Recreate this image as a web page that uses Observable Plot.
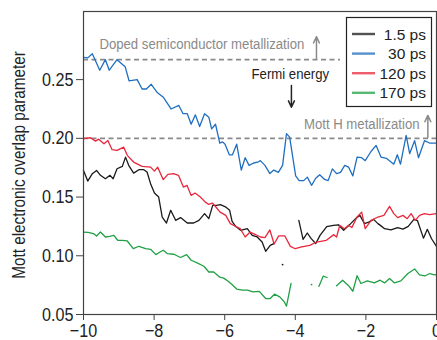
<!DOCTYPE html>
<html>
<head>
<meta charset="utf-8">
<script src="https://cdn.jsdelivr.net/npm/d3@7"></script>
<script src="https://cdn.jsdelivr.net/npm/@observablehq/plot@0.6"></script>
<style>
  html, body { margin: 0; padding: 0; background: #fff; }
  #chart { width: 437px; height: 340px; overflow: hidden; }
</style>
</head>
<body>
<div id="chart"></div>
<script>
// ---- data (x = energy relative to Fermi, y = Mott electronic overlap parameter) ----
const series = ["1.5 ps", "30 ps", "120 ps", "170 ps"];
const colors = ["#1a1a1a", "#1f6fc0", "#e8283c", "#21a045"];

const s1_5 = [[-10.00,0.1727],[-9.88,0.1636],[-9.75,0.1699],[-9.63,0.1727],[-9.52,0.1685],[-9.38,0.1656],[-9.25,0.1685],[-9.16,0.1656],[-9.05,0.1741],[-8.90,0.1761],[-8.81,0.184],[-8.72,0.177],[-8.58,0.1704],[-8.43,0.1733],[-8.29,0.1733],[-8.20,0.1713],[-8.10,0.1614],[-7.99,0.1534],[-7.87,0.150],[-7.77,0.133],[-7.65,0.1279],[-7.53,0.1387],[-7.39,0.1302],[-7.25,0.1325],[-7.06,0.1279],[-6.88,0.1279],[-6.73,0.1302],[-6.57,0.1359],[-6.45,0.1316],[-6.34,0.1429],[-6.23,0.1429],[-6.12,0.1435],[-5.98,0.1417],[-5.86,0.1387],[-5.79,0.1293],[-5.69,0.1251],[-5.55,0.1217],[-5.36,0.1231],[-5.22,0.1174],[-5.08,0.116],[-4.94,0.1117],[-4.84,0.1038],[-4.71,0.1089],[-4.61,0.1104],[-4.45,null],[-3.90,0.1302],[-3.78,0.114],[-3.66,0.1194],[-3.55,0.1146],[-3.42,0.1104],[-3.30,0.1174],[-3.11,0.1248],[-2.92,0.1259],[-2.78,0.1264],[-2.63,0.1217],[-2.48,0.1259],[-2.27,0.1323],[-2.17,0.1344],[-2.04,0.1274],[-1.92,0.1287],[-1.78,0.131],[-1.66,0.1274],[-1.59,0.1259],[-1.47,0.1231],[-1.29,0.1221],[-1.10,0.124],[-0.95,0.1227],[-0.80,0.125],[-0.64,0.131],[-0.54,0.130],[-0.37,0.115],[-0.26,0.1225],[-0.14,0.1145],[0.00,0.108]];

const s30 = [[-10.00,0.269],[-9.88,0.2685],[-9.75,0.272],[-9.54,0.258],[-9.38,0.267],[-9.27,0.258],[-9.05,0.267],[-8.82,0.261],[-8.71,0.249],[-8.48,0.250],[-8.34,0.242],[-8.22,0.242],[-8.08,0.246],[-7.91,0.239],[-7.74,0.235],[-7.52,0.225],[-7.30,0.228],[-7.18,0.221],[-7.06,0.221],[-6.95,0.212],[-6.83,0.220],[-6.71,0.210],[-6.57,0.221],[-6.45,0.218],[-6.37,0.208],[-6.26,0.212],[-6.14,0.196],[-6.06,0.197],[-5.99,0.195],[-5.87,0.186],[-5.78,0.186],[-5.66,0.195],[-5.53,0.173],[-5.42,0.1835],[-5.31,0.177],[-5.18,0.179],[-5.04,0.180],[-4.99,0.181],[-4.86,0.177],[-4.72,0.170],[-4.61,0.173],[-4.48,0.171],[-4.36,0.177],[-4.25,0.204],[-4.16,0.201],[-3.99,0.168],[-3.89,0.164],[-3.76,0.164],[-3.66,0.167],[-3.54,0.160],[-3.42,0.166],[-3.31,0.169],[-3.17,0.165],[-3.07,0.164],[-2.95,0.174],[-2.83,0.170],[-2.72,0.171],[-2.60,0.177],[-2.49,0.1755],[-2.37,0.168],[-2.25,0.184],[-2.12,0.1835],[-2.02,0.181],[-1.85,0.189],[-1.71,0.194],[-1.57,0.184],[-1.42,0.183],[-1.21,0.178],[-1.11,0.186],[-1.02,0.178],[-0.86,0.2025],[-0.76,0.187],[-0.62,0.198],[-0.51,0.1835],[-0.34,0.198],[-0.20,0.196],[0.00,0.196]];

const s120 = [[-10.00,0.1997],[-9.80,0.2005],[-9.66,0.1976],[-9.57,0.1993],[-9.42,0.1954],[-9.31,0.1982],[-9.19,0.1903],[-9.05,0.1897],[-8.86,0.1925],[-8.76,0.1855],[-8.58,0.1798],[-8.34,0.1761],[-8.10,0.1755],[-7.99,0.1721],[-7.90,0.1755],[-7.74,0.1648],[-7.61,0.1693],[-7.45,0.1699],[-7.31,0.1685],[-7.17,0.1585],[-7.07,0.160],[-6.95,0.1514],[-6.84,0.1534],[-6.69,0.150],[-6.55,0.1457],[-6.46,0.1438],[-6.35,0.1449],[-6.25,0.1415],[-6.13,0.1372],[-5.97,0.1344],[-5.84,0.1274],[-5.70,0.1251],[-5.56,0.1231],[-5.42,0.116],[-5.28,0.1202],[-5.14,0.1183],[-4.99,0.116],[-4.86,0.1155],[-4.72,0.122],[-4.60,0.110],[-4.47,0.117],[-4.30,0.117],[-4.14,0.108],[-4.00,0.106],[-3.82,0.1075],[-3.59,0.1089],[-3.40,0.1117],[-3.12,0.1132],[-2.91,0.118],[-2.83,0.116],[-2.74,0.126],[-2.61,0.1231],[-2.49,0.126],[-2.40,0.124],[-2.25,0.133],[-2.12,0.1372],[-2.02,0.1231],[-1.85,0.1302],[-1.66,0.133],[-1.49,0.1344],[-1.33,0.1421],[-1.21,0.1359],[-1.10,0.1325],[-0.95,0.1344],[-0.83,0.1316],[-0.72,0.1359],[-0.60,0.1302],[-0.48,0.1344],[-0.34,0.1359],[-0.20,0.135],[0.00,0.1359]];

const s170 = [[-10.00,0.1202],[-9.87,0.120],[-9.72,0.1189],[-9.63,0.1168],[-9.52,0.1202],[-9.38,0.116],[-9.26,0.1166],[-9.14,0.1174],[-9.03,0.1132],[-8.90,0.1132],[-8.76,0.1126],[-8.59,0.1061],[-8.43,0.1081],[-8.24,0.1061],[-8.10,0.1055],[-7.95,0.101],[-7.83,0.1032],[-7.74,0.1047],[-7.63,0.1019],[-7.44,0.1013],[-7.25,0.0985],[-7.08,0.101],[-6.95,0.0962],[-6.78,0.0939],[-6.59,0.0911],[-6.45,0.0862],[-6.31,0.0862],[-6.14,0.0818],[-6.03,0.081],[-5.92,0.0787],[-5.80,0.0758],[-5.66,0.0717],[-5.50,0.0707],[-5.35,0.0707],[-5.20,0.0692],[-5.02,0.0697],[-4.84,0.0636],[-4.71,0.0636],[-4.59,0.0673],[-4.44,0.065],[-4.31,0.0607],[-4.25,0.0571],[-4.12,0.0764],[-3.80,null],[-3.33,0.074],[-3.21,0.0826],[-3.10,0.0815],[-3.00,null],[-2.83,0.0745],[-2.66,0.0792],[-2.56,0.0764],[-2.49,0.0745],[-2.37,0.0698],[-2.25,0.0830],[-2.14,0.0764],[-1.96,0.0786],[-1.76,0.0769],[-1.60,0.0792],[-1.47,0.0769],[-1.33,0.0806],[-1.19,0.0769],[-1.01,0.0786],[-0.81,0.0849],[-0.62,0.0888],[-0.48,0.0838],[-0.33,0.0828],[-0.19,0.0849],[-0.06,0.0838],[0.00,0.084]];

// isolated single samples (series index, x, y)
const isolated = [[0,-4.36,0.0925],[3,-3.54,0.0755]];

const xTicks = [-10, -8, -6, -4, -2, 0];
const yTicks = [0.05, 0.10, 0.15, 0.20, 0.25];
const yLabel = "Mott electronic overlap parameter";

// reference levels
const dopedLevel = 0.267;
const mottLevel = 0.20;

// ---- build table ----
const all = [s1_5, s30, s120, s170];
const rows = [];
all.forEach((s, i) => s.forEach(([x, y]) => rows.push({series: series[i], x, y})));
const iso = isolated.map(([i, x, y]) => ({series: series[i], x, y}));

const sans = "'Liberation Sans', Arial, Helvetica, sans-serif";
const grey = "#8a8a8a";

const chart = Plot.plot({
  width: 437,
  height: 340,
  marginLeft: 83,
  marginRight: 1,
  marginTop: 11,
  marginBottom: 26,
  style: {fontFamily: sans, fontSize: "19px", color: "#222", background: "#fff", overflow: "visible"},
  x: {domain: [-10, 0], label: null},
  y: {domain: [0.05, 0.308], label: null},
  color: {domain: series, range: colors},
  marks: [
    Plot.ruleY([dopedLevel], {x1: -10, x2: -2.72, stroke: grey, strokeWidth: 1.6, strokeDasharray: "5,3.5"}),
    Plot.ruleY([mottLevel], {x1: -10, x2: 0, stroke: grey, strokeWidth: 1.6, strokeDasharray: "5,3.5"}),
    Plot.line(rows, {x: "x", y: "y", z: "series", stroke: "series", strokeWidth: 1.3}),
    Plot.dot(iso, {x: "x", y: "y", fill: "series", r: 0.9, stroke: null}),
    Plot.text(["Doped semiconductor metallization"], {x: -9.55, y: 0.2799, textAnchor: "start", fill: grey, fontSize: 15.5}),
    Plot.text(["Fermi energy"], {x: -4.14, y: 0.2545, textAnchor: "middle", fill: "#222", fontSize: 15.5}),
    Plot.text(["Mott H metallization"], {x: -0.48, y: 0.2118, textAnchor: "end", fill: grey, fontSize: 15.5}),
    Plot.arrow([{x: -3.40, y1: 0.2678, y2: 0.2866}], {x: "x", y1: "y1", y2: "y2", stroke: grey, strokeWidth: 1.5, headLength: 7, headAngle: 50}),
    Plot.arrow([{x: -0.245, y1: 0.2007, y2: 0.2195}], {x: "x", y1: "y1", y2: "y2", stroke: grey, strokeWidth: 1.5, headLength: 7, headAngle: 50}),
    Plot.arrow([{x: -4.11, y1: 0.245, y2: 0.2265}], {x: "x", y1: "y1", y2: "y2", stroke: "#222", strokeWidth: 1.5, headLength: 7, headAngle: 50}),
    Plot.frame({stroke: "#444", strokeWidth: 1.2}),
    Plot.axisX({ticks: xTicks, tickSize: 6, tickPadding: 3, stroke: "#444", fill: "#222", label: null}),
    Plot.axisY({ticks: yTicks, tickSize: 7, tickPadding: 3, tickFormat: d3.format(".2f"), stroke: "#444", fill: "#222", label: null}),
    Plot.text([yLabel], {frameAnchor: "left", textAnchor: "middle", dx: -64, dy: 2, rotate: -90, fontSize: 18, fill: "#222"})
  ]
});

document.getElementById("chart").appendChild(chart);

// condense the Plot's own text horizontally (the original uses a condensed typeface)
d3.select(chart).selectAll("text").each(function () {
  const el = d3.select(this);
  const t = el.attr("transform") || "";
  const xa = el.attr("x");
  const xn = xa == null ? 0 : parseFloat(xa);
  if (isFinite(xn) && xn !== 0) {
    el.attr("transform", `${t} translate(${xn},0) scale(0.85,1)`).attr("x", null);
  } else {
    el.attr("transform", `${t} scale(0.85,1)`);
  }
});

// ---- legend box (inside plot, top right) ----
const svg = d3.select(chart);
const lg = svg.append("g").attr("font-family", sans).attr("font-size", 15.5);
lg.append("rect").attr("x", 346.5).attr("y", 17.5).attr("width", 85).attr("height", 89)
  .attr("fill", "#fff").attr("stroke", "#222").attr("stroke-width", 1.2);
series.forEach((s, i) => {
  const yy = 34 + i * 19.6;
  lg.append("line").attr("x1", 352).attr("x2", 375).attr("y1", yy).attr("y2", yy)
    .attr("stroke", colors[i]).attr("stroke-width", 2.4).attr("opacity", 0.75);
  lg.append("text").attr("x", 426).attr("y", yy).attr("dy", "0.36em").attr("text-anchor", "end")
    .attr("fill", "#222").text(s);
});
</script>
</body>
</html>
